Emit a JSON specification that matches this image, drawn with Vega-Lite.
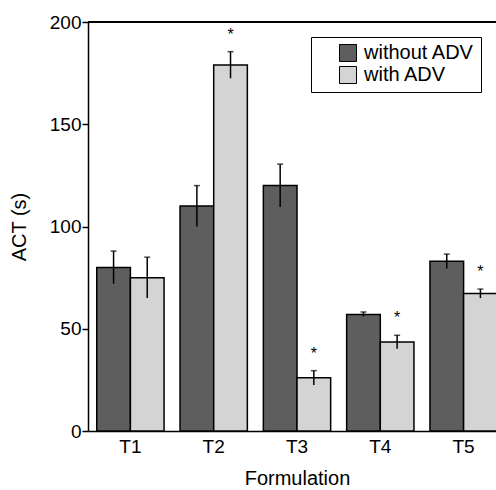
{
  "$schema": "https://vega.github.io/schema/vega-lite/v6.json",
  "width": 408,
  "height": 409,
  "autosize": {"type": "none"},
  "padding": {"left": 88, "top": 22, "right": 0, "bottom": 59},
  "background": "white",
  "config": {
    "view": {"stroke": null},
    "font": "Liberation Sans",
    "axis": {"domainColor": "black", "domainWidth": 1.5, "tickColor": "black", "tickWidth": 1.5, "labelColor": "black", "titleColor": "black", "labelFont": "Liberation Sans", "titleFont": "Liberation Sans", "titleFontWeight": "normal"}
  },
  "data": {
    "values": [
      {"form": "T1", "group": "without ADV", "act": 80, "lo": 72, "hi": 88, "sig": false},
      {"form": "T1", "group": "with ADV", "act": 75, "lo": 65, "hi": 85, "sig": false},
      {"form": "T2", "group": "without ADV", "act": 110, "lo": 100, "hi": 120, "sig": false},
      {"form": "T2", "group": "with ADV", "act": 179, "lo": 172.5, "hi": 185.5, "sig": true},
      {"form": "T3", "group": "without ADV", "act": 120, "lo": 109.5, "hi": 130.5, "sig": false},
      {"form": "T3", "group": "with ADV", "act": 26, "lo": 22.5, "hi": 29.5, "sig": true},
      {"form": "T4", "group": "without ADV", "act": 57, "lo": 56, "hi": 58.2, "sig": false},
      {"form": "T4", "group": "with ADV", "act": 43.5, "lo": 40.2, "hi": 46.8, "sig": true},
      {"form": "T5", "group": "without ADV", "act": 83, "lo": 79.5, "hi": 86.5, "sig": false},
      {"form": "T5", "group": "with ADV", "act": 67.2, "lo": 65, "hi": 69.4, "sig": true}
    ]
  },
  "encoding": {
    "x": {
      "field": "form",
      "type": "nominal",
      "scale": {"range": [0, 418], "paddingInner": 0.192, "paddingOuter": 0.105},
      "axis": {
        "title": "Formulation",
        "titleFontSize": 20,
        "titlePadding": 12,
        "titleX": 209,
        "labelAngle": 0,
        "labelFontSize": 19,
        "labelPadding": 6,
        "ticks": false
      }
    },
    "xOffset": {"field": "group", "type": "nominal", "sort": ["without ADV", "with ADV"]}
  },
  "layer": [
    {
      "mark": {"type": "bar", "stroke": "black", "strokeWidth": 1.5},
      "encoding": {
        "y": {
          "field": "act",
          "type": "quantitative",
          "scale": {"domain": [0, 200], "nice": false},
          "axis": {
            "orient": "left",
            "title": "ACT (s)",
            "titleFontSize": 20,
            "titlePadding": 20,
            "labelFontSize": 19,
            "labelPadding": 1,
            "ticks": true,
            "tickSize": 6,
            "grid": false,
            "values": [0, 50, 100, 150, 200]
          }
        },
        "fill": {
          "field": "group",
          "type": "nominal",
          "scale": {"domain": ["without ADV", "with ADV"], "range": ["#5e5e5e", "#d4d4d4"]},
          "legend": {
            "title": null,
            "orient": "none",
            "legendX": 223,
            "legendY": 15,
            "symbolType": "square",
            "symbolSize": 289,
            "symbolStrokeColor": "black",
            "symbolStrokeWidth": 1,
            "symbolOffset": 21,
            "labelFontSize": 20,
            "labelOffset": 6,
            "labelColor": "black",
            "rowPadding": 0,
            "padding": 6,
            "strokeColor": "black",
            "fillColor": "white"
          }
        }
      }
    },
    {
      "mark": {"type": "rule", "color": "black", "strokeWidth": 1.5},
      "encoding": {
        "y": {"field": "lo", "type": "quantitative", "axis": null},
        "y2": {"field": "hi"}
      }
    },
    {
      "mark": {"type": "tick", "color": "black", "size": 6, "thickness": 1.5, "orient": "horizontal"},
      "encoding": {
        "y": {"field": "hi", "type": "quantitative", "axis": null}
      }
    },
    {
      "transform": [{"filter": "datum.sig"}],
      "mark": {"type": "text", "text": "*", "fontSize": 16, "baseline": "middle", "dy": -17, "color": "black"},
      "encoding": {
        "y": {"field": "hi", "type": "quantitative", "axis": null}
      }
    },
    {
      "mark": {"type": "rule", "color": "black", "strokeWidth": 1.5},
      "encoding": {
        "x": null,
        "xOffset": null,
        "y": {"datum": 200, "axis": null}
      }
    }
  ],
  "resolve": {"axis": {"y": "independent"}}
}
